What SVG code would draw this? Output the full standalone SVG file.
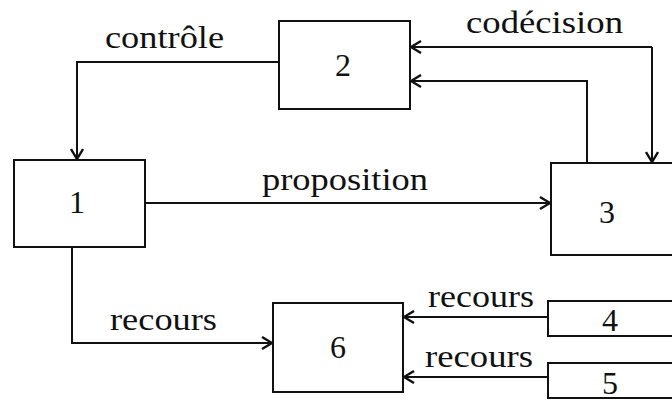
<svg xmlns="http://www.w3.org/2000/svg" width="672" height="401" viewBox="0 0 672 401">
  <defs>
    <marker id="arr" viewBox="0 0 12 14" refX="11" refY="7" markerWidth="12" markerHeight="14" markerUnits="userSpaceOnUse" orient="auto">
      <path d="M1,1 L11,7 L1,13" fill="none" stroke="#111" stroke-width="2.4"/>
    </marker>
  </defs>
  <style>
    .box { fill: #fff; stroke: #111; stroke-width: 2; }
    .edge { fill: none; stroke: #111; stroke-width: 2; }
    .lbl { font-family: "Liberation Serif", "Times New Roman", serif; font-size: 32px; fill: #111; }
    .num { font-family: "Liberation Serif", "Times New Roman", serif; font-size: 32px; fill: #111; text-anchor: middle; }
  </style>
  <rect width="672" height="401" fill="#fff"/>

  <!-- connectors -->
  <g id="connectors">
    <polyline class="edge" points="279,62 77,62 77,159" marker-end="url(#arr)"/>
    <polyline class="edge" points="652,47 652,162" marker-end="url(#arr)"/>
    <polyline class="edge" points="652,47 411,47" marker-end="url(#arr)"/>
    <polyline class="edge" points="587,163 587,81 411,81" marker-end="url(#arr)"/>
    <polyline class="edge" points="145,203 550,203" marker-end="url(#arr)"/>
    <polyline class="edge" points="72,247 72,343 272,343" marker-end="url(#arr)"/>
    <polyline class="edge" points="548,317 404,317" marker-end="url(#arr)"/>
    <polyline class="edge" points="548,377 404,377" marker-end="url(#arr)"/>
    <text class="lbl" x="105" y="48" textLength="119" lengthAdjust="spacingAndGlyphs">contrôle</text>
    <text class="lbl" x="466" y="33" textLength="157" lengthAdjust="spacingAndGlyphs">codécision</text>
    <text class="lbl" x="262" y="190" textLength="166" lengthAdjust="spacingAndGlyphs">proposition</text>
    <text class="lbl" x="110" y="330" textLength="107" lengthAdjust="spacingAndGlyphs">recours</text>
    <text class="lbl" x="428" y="307" textLength="106" lengthAdjust="spacingAndGlyphs">recours</text>
    <text class="lbl" x="425" y="367" textLength="108" lengthAdjust="spacingAndGlyphs">recours</text>
  </g>

  <g id="node1">
    <rect class="box" x="14" y="160" width="131" height="87"/>
    <text class="num" x="77" y="213">1</text>
  </g>
  <g id="node2">
    <rect class="box" x="279" y="21" width="131" height="88"/>
    <text class="num" x="343" y="76">2</text>
  </g>
  <g id="node3">
    <rect class="box" x="551" y="163" width="140" height="92"/>
    <text class="num" x="607" y="223">3</text>
  </g>
  <g id="node4">
    <rect class="box" x="548" y="301" width="140" height="35"/>
    <text class="num" x="610" y="331">4</text>
  </g>
  <g id="node5">
    <rect class="box" x="548" y="363" width="140" height="35"/>
    <text class="num" x="610" y="394">5</text>
  </g>
  <g id="node6">
    <rect class="box" x="273" y="303" width="130" height="89"/>
    <text class="num" x="338" y="358">6</text>
  </g>
</svg>
